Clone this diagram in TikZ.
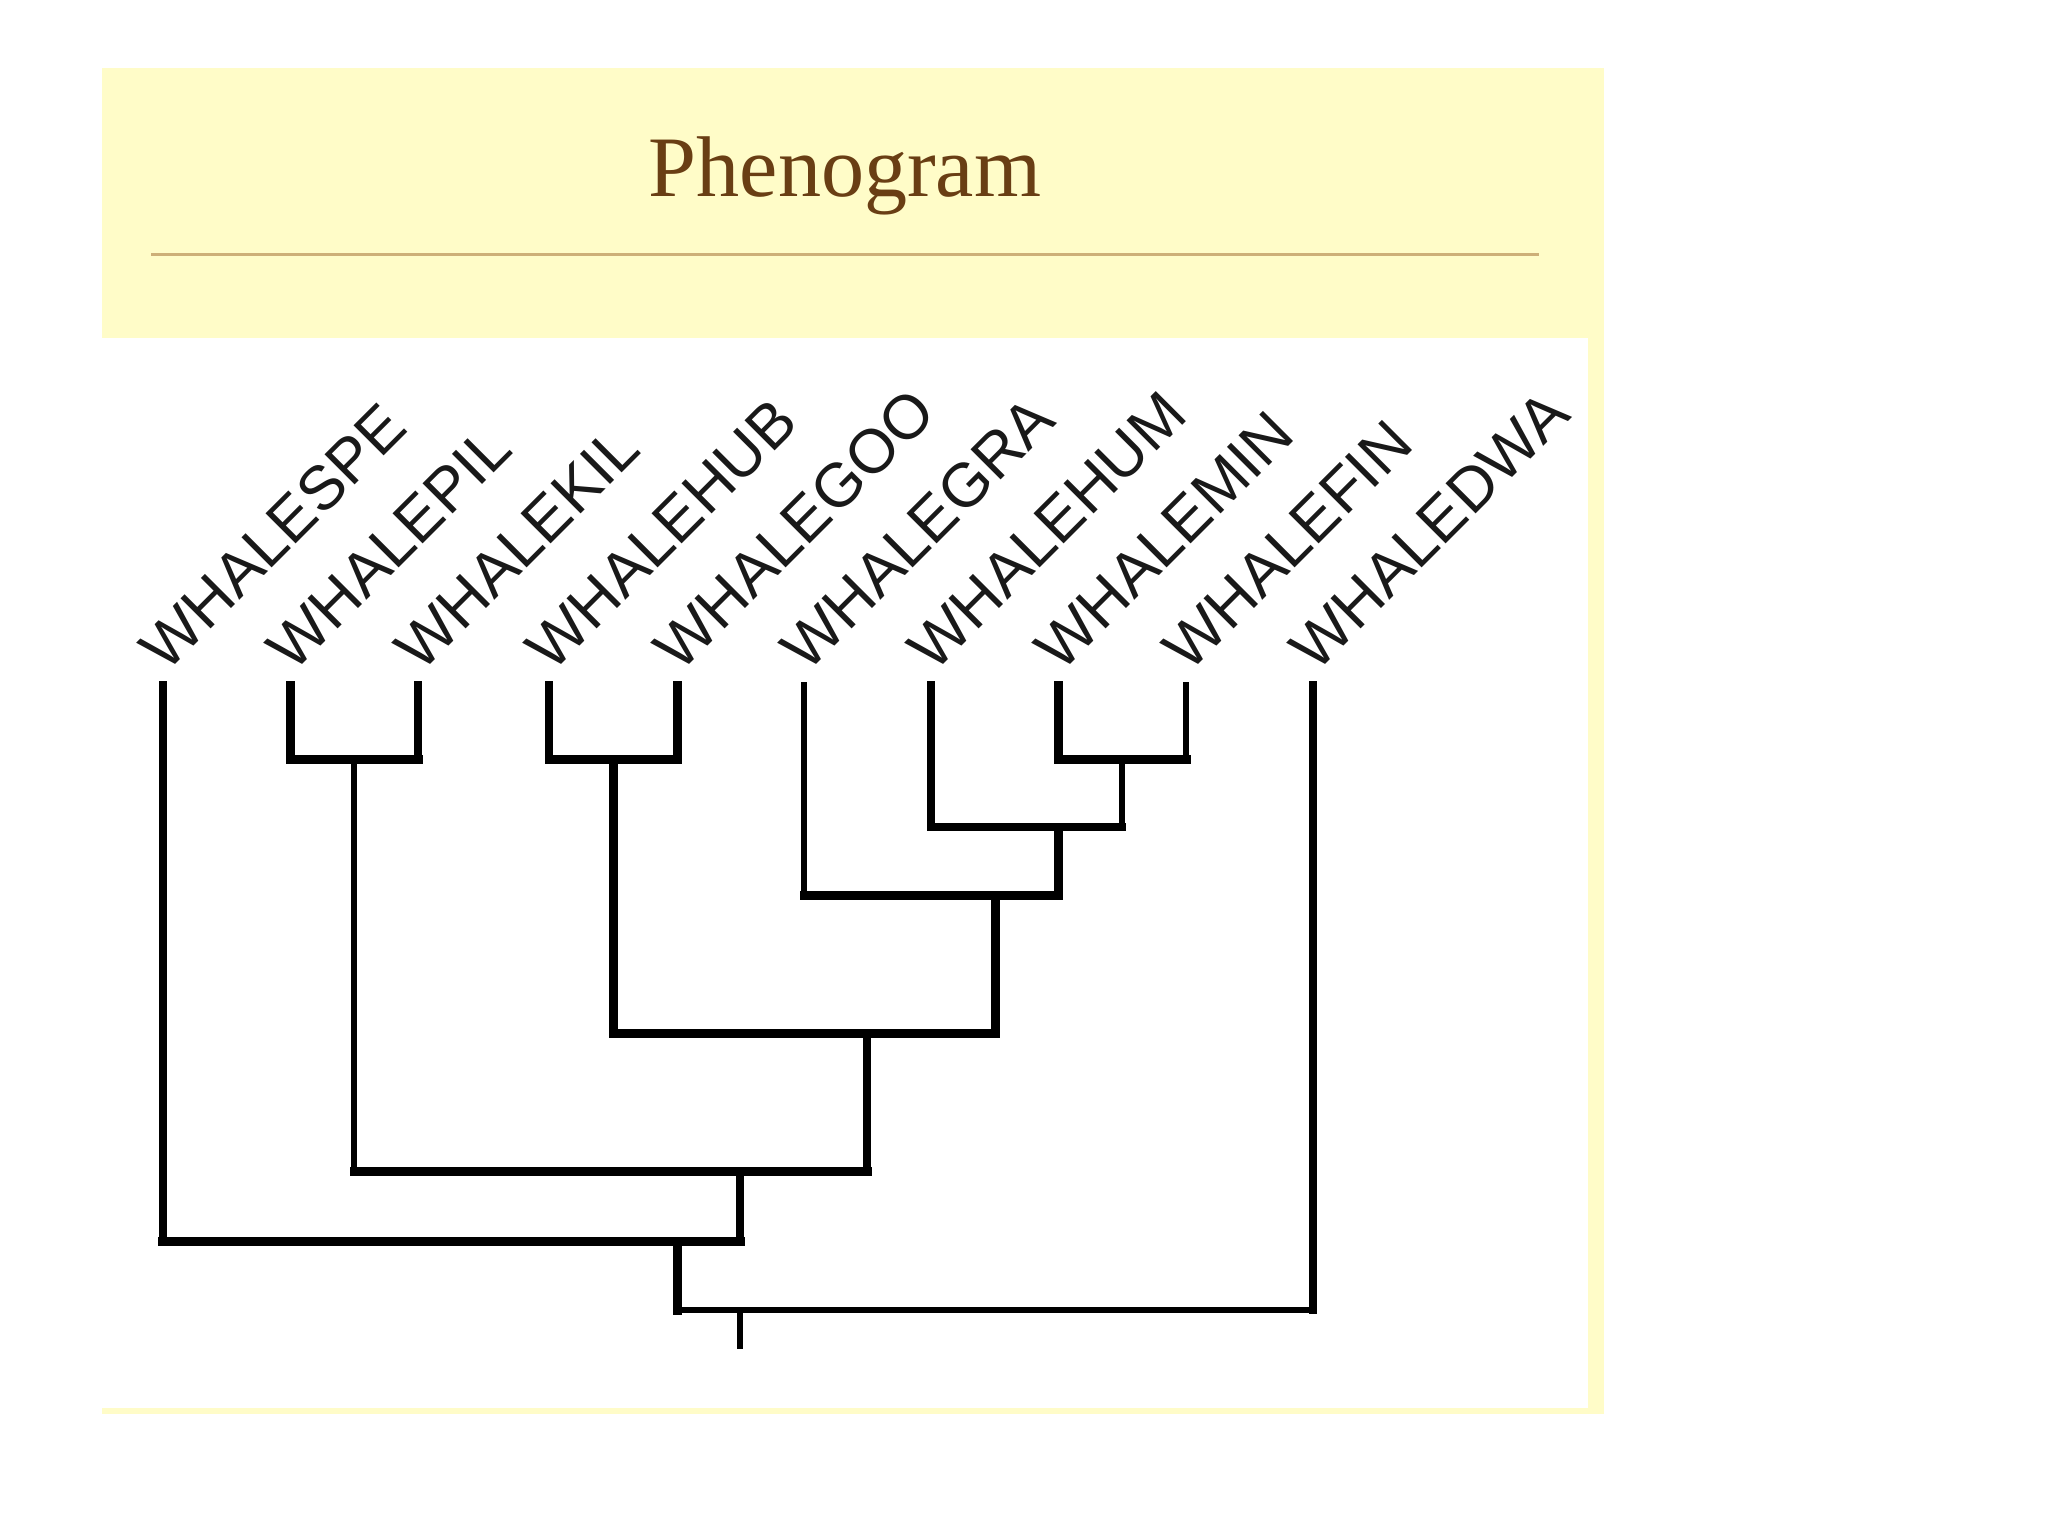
\documentclass[tikz,border=0pt]{standalone}
\usepackage{fontspec}
\setmainfont{Liberation Serif}
\newfontfamily\labfont{Liberation Sans}
\definecolor{panel}{RGB}{255,252,200}
\definecolor{titlebrown}{RGB}{105,62,20}
\definecolor{rulecol}{RGB}{205,175,120}
\begin{document}
\begin{tikzpicture}[x=0.01cm,y=-0.01cm,
  lab/.style={anchor=base west,rotate=45,inner sep=0pt,text=black!90,font=\labfont\fontsize{17.6}{17.6}\selectfont},
  titlelab/.style={anchor=base,inner sep=0pt,text=titlebrown,font=\fontsize{24.5}{24.5}\selectfont},
  br/.style={line cap=rect,black},
  wA/.style={br,line width=0.09cm},
  wB/.style={br,line width=0.075cm},
  wC/.style={br,line width=0.06cm}]
\useasboundingbox (0,0) rectangle (2048,1536);
\fill[white] (0,0) rectangle (2048,1536);
\fill[panel] (102,68) rectangle (1604,1414);
\fill[white] (102,338) rectangle (1588,1408);
\node[titlelab] (title) at (845,196) {Phenogram};
\coordinate (rl) at (151,254);
\coordinate (rr) at (1539,254);
\draw[rulecol,line width=0.03cm] (rl) -- (rr);
% leaves
\foreach \i/\x/\n in {0/163/SPE,1/290/PIL,2/418/KIL,3/549/HUB,4/677/GOO,5/804/GRA,6/931/HUM,7/1058/MIN,8/1186/FIN,9/1313/DWA}{
  \coordinate (L\i) at (\x,685);
  \node[lab] (t\i) at (\x+3,674) {WHALE\n};
}
% internal joins
\coordinate (a) at (354,759);
\coordinate (b) at (613,759);
\coordinate (c) at (1122,759);
\coordinate (d) at (1058,827);
\coordinate (e) at (995,895);
\coordinate (f) at (867,1033);
\coordinate (g) at (740,1171);
\coordinate (h) at (677,1241);
\coordinate (r) at (740,1310);
\coordinate (root) at (740,1346);
% a = (PIL,KIL)
\draw[wA] (a -| L1) -- (a -| L2);
\draw[wA] (a -| L1) -- (L1);
\draw[wB] (a -| L2) -- (L2);
% b = (HUB,GOO)
\draw[wA] (b -| L3) -- (b -| L4);
\draw[wB] (b -| L3) -- (L3);
\draw[wA] (b -| L4) -- (L4);
% c = (MIN,FIN)
\draw[wA] (c -| L7) -- (c -| L8);
\draw[wA] (c -| L7) -- (L7);
\draw[wC] (c -| L8) -- (L8);
% d = HUM + c
\draw[wB] (d -| L6) -- (d -| c);
\draw[wB] (d -| L6) -- (L6);
\draw[wC] (d -| c) -- (c);
% e = GRA + d
\draw[wA] (e -| L5) -- (e -| d);
\draw[wC] (e -| L5) -- (L5);
\draw[wA] (e -| d) -- (d);
% f = b + e
\draw[wA] (f -| b) -- (f -| e);
\draw[wA] (f -| b) -- (b);
\draw[wA] (f -| e) -- (e);
% g = a + f
\draw[wA] (g -| a) -- (g -| f);
\draw[wC] (g -| a) -- (a);
\draw[wB] (g -| f) -- (f);
% h = SPE + g
\draw[wA] (h -| L0) -- (h -| g);
\draw[wB] (h -| L0) -- (L0);
\draw[wB] (h -| g) -- (g);
% r = h + DWA
\draw[wC] (r -| h) -- (r -| L9);
\draw[wA] (r -| h) -- (h);
\draw[wB] (r -| L9) -- (L9);
% root stem
\draw[wC] (r) -- (root);
\end{tikzpicture}
\end{document}
